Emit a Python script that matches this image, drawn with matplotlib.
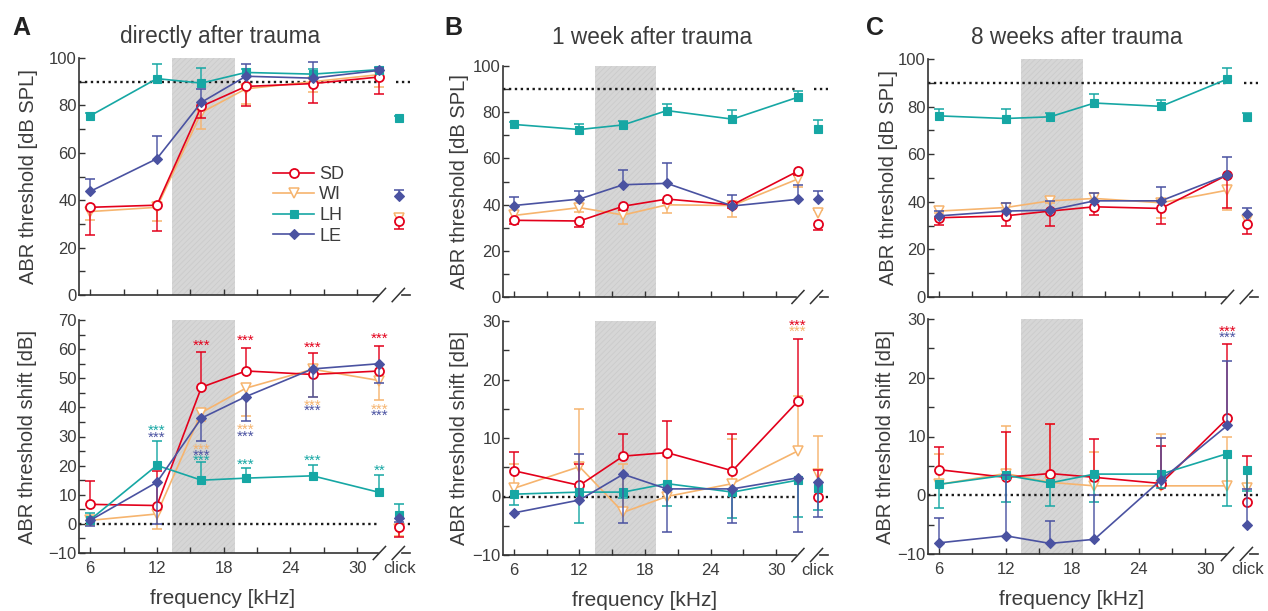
import matplotlib
matplotlib.use('Agg')
import matplotlib.pyplot as plt
import numpy as np
from matplotlib.lines import Line2D
from matplotlib.ticker import MultipleLocator

plt.rcParams['font.family'] = ['Liberation Sans', 'DejaVu Sans']
plt.rcParams['hatch.linewidth'] = 0.6
TXT = '#3c3c3c'
SPINE = '#333333'

# ---------------- data ----------------
freqs = [6, 12, 16, 20, 26, 32]
click_x = 33.8
groups = ['SD', 'WI', 'LH', 'LE']
titles = ['directly after trauma', '1 week after trauma', '8 weeks after trauma']
letters = ['A', 'B', 'C']
xtick_labels = ['6', '12', '18', '24', '30', 'click']
xtick_pos = [6, 12, 18, 24, 30]
trauma_band = (13.4, 19.0)

# threshold [dB SPL]; last value = click
thr_A = {'SD': [37.0, 37.9, 79.6, 88.0, 89.2, 92.0, 31.3],
         'WI': [35.2, 37.0, 77.0, 87.0, 90.0, 93.0, 32.4],
         'LH': [75.6, 91.3, 89.4, 93.9, 93.2, 95.1, 74.6],
         'LE': [43.7, 57.5, 81.3, 92.3, 91.5, 94.8, 41.8]}
thr_A_lo = {'SD': [11.6, 10.9, 5.0, 8.1, 8.2, 7.1, 3.6],
            'WI': [3.5, 5.6, 6.9, 6.3, 4.5, 5.3, 0],
            'LH': [0, 0, 0, 0, 0, 0, 0],
            'LE': [0, 0, 0, 0, 0, 0, 0]}
thr_A_hi = {'SD': [0, 0, 0, 0, 0, 0, 0],
            'WI': [0, 0, 0, 0, 0, 0, 1.5],
            'LH': [1.0, 6.2, 6.4, 1.5, 2.0, 1.0, 1.0],
            'LE': [5.2, 9.4, 5.7, 5.0, 6.8, 1.0, 2.6]}

thr_B = {'SD': [33.2, 32.9, 39.3, 42.4, 39.9, 54.5, 31.8],
         'WI': [35.3, 38.7, 35.5, 39.9, 39.6, 51.1, 36.5],
         'LH': [74.7, 72.5, 74.5, 80.7, 77.0, 86.5, 72.7],
         'LE': [39.6, 42.4, 48.6, 49.2, 39.4, 42.3, 42.3]}
thr_B_lo = {'SD': [1.7, 2.4, 1.5, 1.5, 1.5, 1.5, 2.7],
            'WI': [1.5, 2.0, 4.0, 3.4, 4.8, 3.3, 0],
            'LH': [0, 0, 0, 0, 0, 0, 0],
            'LE': [0, 0, 0, 0, 0, 0, 0]}
thr_B_hi = {'SD': [0, 0, 0, 0, 0, 0, 0],
            'WI': [0, 0, 0, 0, 0, 0, 1.0],
            'LH': [1.0, 2.6, 1.6, 2.9, 3.9, 2.6, 3.8],
            'LE': [3.6, 3.6, 6.5, 8.6, 4.8, 6.2, 3.7]}

thr_C = {'SD': [33.3, 34.1, 36.1, 37.9, 37.2, 51.3, 30.5],
         'WI': [36.1, 37.6, 40.4, 41.4, 39.6, 44.9, 32.3],
         'LH': [76.1, 75.0, 75.7, 81.5, 80.1, 91.6, 75.8],
         'LE': [34.1, 36.1, 36.5, 40.4, 40.4, 51.3, 34.8]}
thr_C_lo = {'SD': [3.1, 4.2, 6.3, 3.5, 6.6, 14.1, 4.2],
            'WI': [1.0, 1.0, 1.0, 1.0, 6.6, 8.4, 1.0],
            'LH': [0, 0, 0, 0, 0, 0, 0],
            'LE': [0, 0, 0, 0, 0, 0, 0]}
thr_C_hi = {'SD': [0, 0, 0, 0, 0, 0, 0],
            'WI': [0, 0, 0, 0, 0, 0, 0],
            'LH': [3.0, 3.9, 1.8, 3.8, 2.8, 4.6, 1.7],
            'LE': [2.1, 3.5, 3.9, 3.1, 5.8, 7.7, 2.7]}

# threshold shift [dB]; last value = click
shift_A = {'SD': [6.7, 6.3, 46.9, 52.5, 51.3, 52.5, -1.2],
           'WI': [1.2, 3.4, 38.2, 46.6, 53.1, 49.2, -1.8],
           'LH': [1.4, 20.1, 15.0, 15.7, 16.5, 10.8, 2.9],
           'LE': [1.2, 14.3, 36.3, 43.7, 53.2, 55.0, 2.0]}
shift_A_lo = {'SD': [0, 0, 0, 0, 0, 0, 3.4],
              'WI': [1.5, 5.2, 3.0, 9.4, 9.4, 6.6, 2.5],
              'LH': [0, 0, 0, 0, 0, 0, 0],
              'LE': [2.1, 14.3, 8.0, 8.3, 9.5, 6.7, 1.5]}
shift_A_hi = {'SD': [8.1, 12.0, 12.2, 8.0, 7.5, 8.5, 0],
              'WI': [0, 0, 0, 0, 0, 0, 0],
              'LH': [2.3, 8.2, 6.4, 3.4, 3.8, 6.1, 3.9],
              'LE': [0, 0, 0, 0, 0, 0, 0]}

shift_B = {'SD': [4.4, 1.9, 6.9, 7.5, 4.4, 16.3, 0.0],
           'WI': [1.4, 5.1, -2.7, 0.0, 2.2, 7.8, 3.9],
           'LH': [0.4, 0.75, 0.75, 2.2, 0.75, 2.8, 1.4],
           'LE': [-2.8, -0.6, 3.8, 1.3, 1.3, 3.2, 2.5]}
shift_B_lo = {'SD': [0, 0, 0, 0, 0, 0, 0],
              'WI': [0, 0, 0, 0, 0, 0, 0],
              'LH': [1.8, 5.35, 1.0, 3.9, 4.5, 6.3, 3.7],
              'LE': [0, 0, 8.4, 7.4, 5.8, 9.3, 6.0]}
shift_B_hi = {'SD': [3.2, 3.6, 3.8, 5.4, 6.3, 10.6, 4.6],
              'WI': [4.1, 9.9, 8.2, 7.0, 7.7, 9.4, 6.5],
              'LH': [0, 0, 0, 0, 0, 0, 0],
              'LE': [0, 7.8, 0, 0, 0, 0, 0]}

shift_C = {'SD': [4.35, 3.05, 3.7, 3.05, 2.0, 13.1, -1.2],
           'WI': [1.85, 3.7, 2.2, 1.6, 1.6, 1.6, 1.2],
           'LH': [1.85, 3.4, 2.1, 3.6, 3.6, 7.1, 4.3],
           'LE': [-8.1, -6.9, -8.2, -7.5, 2.6, 11.9, -5.1]}
shift_C_lo = {'SD': [0, 0, 0, 0, 0, 0, 0],
              'WI': [0, 0, 0, 0, 0, 0, 0],
              'LH': [4.1, 4.5, 3.9, 4.7, 2.3, 9.0, 3.5],
              'LE': [0, 0, 0, 0, 0, 0, 0]}
shift_C_hi = {'SD': [3.8, 7.7, 8.5, 6.6, 6.4, 12.6, 7.9],
              'WI': [5.1, 8.1, 9.9, 5.7, 8.8, 8.4, 0],
              'LH': [0, 0, 0, 0, 0, 0, 0],
              'LE': [4.3, 10.3, 3.9, 7.5, 7.1, 11.0, 6.2]}

# significance stars: (group, freq, y, text)
stars_A = [('SD', 16, 62.7, '***'), ('SD', 20, 64.3, '***'), ('SD', 26, 62.1, '***'), ('SD', 32, 65.2, '***'),
           ('WI', 16, 26.9, '***'), ('WI', 20, 33.7, '***'), ('WI', 26, 42.2, '***'), ('WI', 32, 40.5, '***'),
           ('LE', 12, 31.1, '***'), ('LE', 16, 24.9, '***'), ('LE', 20, 31.5, '***'), ('LE', 26, 40.2, '***'),
           ('LE', 32, 38.5, '***'),
           ('LH', 12, 33.3, '***'), ('LH', 16, 23.0, '***'), ('LH', 20, 21.7, '***'), ('LH', 26, 23.0, '***'),
           ('LH', 32, 19.7, '**')]
stars_B = [('SD', 32, 30.0, '***'), ('WI', 32, 28.9, '***')]
stars_C = [('SD', 32, 28.6, '***'), ('LE', 32, 27.5, '***')]

# ---------------- style ----------------
colors = {'SD': '#e3001b', 'WI': '#f6b46e', 'LH': '#16a7a4', 'LE': '#4a52a1'}
markers = {'SD': dict(marker='o', ms=6.5, mfc='white', mew=1.3),
           'WI': dict(marker='v', ms=7, mfc='white', mew=1.1),
           'LH': dict(marker='s', ms=5.5, mew=0.8),
           'LE': dict(marker='D', ms=5.5, mew=0.8)}
order = ['WI', 'SD', 'LH', 'LE']
XLIM = (5.0, 34.75)

fig = plt.figure(figsize=(12.68, 6.11), dpi=100)

W = 1268.0
H = 611.0
def axbox(l, r, t, b):
    return [l / W, 1 - b / H, (r - l) / W, (b - t) / H]

boxes_top = [axbox(79, 410, 58, 295), axbox(503, 828, 66, 297), axbox(928, 1258, 59, 297)]
boxes_bot = [axbox(79, 410, 320, 553), axbox(503, 828, 321, 555), axbox(928, 1258, 319, 554)]
ylab_x_top = [-0.125, -0.105, -0.092]
ylab_x_bot = [-0.127, -0.105, -0.100]


def draw_series(ax, mean, lo, hi):
    xs = np.array(freqs + [click_x], dtype=float)
    for zi, g in enumerate(order):
        c = colors[g]
        m = np.array(mean[g], dtype=float)
        l = np.array(lo[g], dtype=float)
        h = np.array(hi[g], dtype=float)
        z = 3 + zi
        for err, sign in ((l, -1), (h, 1)):
            sel = err > 0
            if sel.any():
                ends = m[sel] + sign * err[sel]
                ax.vlines(xs[sel], m[sel], ends, color=c, lw=1.2, alpha=0.85, zorder=z)
                ax.plot(xs[sel], ends, ls='none', marker='_', ms=7, mew=1.3, color=c, alpha=0.85, zorder=z)
        ax.plot(freqs, m[:6], color=c, lw=1.2, mec=c, zorder=z + 0.5, **markers[g])
        ax.plot([click_x], [m[6]], color=c, ls='none', mec=c, zorder=z + 0.5, **markers[g])


def style_axis(ax, ylim, ymaj, ymin, ref_y, bottom_labels, ylab, ylab_x):
    ax.set_xlim(*XLIM)
    ax.set_ylim(*ylim)
    for s in ('top', 'right', 'bottom'):
        ax.spines[s].set_visible(False)
    ax.spines['left'].set_color(SPINE)
    ax.spines['left'].set_linewidth(1.2)
    ax.yaxis.set_major_locator(MultipleLocator(ymaj))
    ax.yaxis.set_minor_locator(MultipleLocator(ymin))
    ax.set_xticks(xtick_pos + [click_x])
    ax.set_xticks([9, 15, 21, 27], minor=True)
    if bottom_labels:
        ax.set_xticklabels(xtick_labels)
    else:
        ax.set_xticklabels([])
    ax.xaxis.get_major_ticks()[-1].tick1line.set_visible(False)
    ax.tick_params(which='both', direction='in', length=4, width=1.0, color=SPINE,
                   labelcolor=TXT, labelsize=12)
    ax.tick_params(axis='x', pad=6)
    ax.tick_params(axis='y', pad=1.5)
    # broken bottom axis
    tr = ax.get_xaxis_transform()
    ax.plot([XLIM[0], 31.85], [0, 0], transform=tr, color=SPINE, lw=1.2, clip_on=False, zorder=10)
    ax.plot([34.0, XLIM[1]], [0, 0], transform=tr, color=SPINE, lw=1.2, clip_on=False, zorder=10)
    hgt = 0.028
    for xc in (32.0, 33.7):
        ax.plot([xc - 0.55, xc + 0.55], [-hgt, hgt], transform=tr, color=SPINE, lw=1.1,
                clip_on=False, zorder=10)
    # dotted reference
    ax.plot([XLIM[0], 32.0], [ref_y, ref_y], ls=(0, (1, 1.5)), color='#1a1a1a', lw=1.7, zorder=2)
    ax.plot([33.5, XLIM[1]], [ref_y, ref_y], ls=(0, (1, 1.5)), color='#1a1a1a', lw=1.7, zorder=2)
    ax.axvspan(*trauma_band, facecolor='#d6d6d6', edgecolor='#cbcbcb', hatch='//////', lw=0, zorder=0)
    ax.set_ylabel(ylab, fontsize=14.5, color=TXT)
    ax.yaxis.set_label_coords(ylab_x, 0.5)


def draw_stars(ax, stars):
    for g, f, y, t in stars:
        ax.annotate(t, (f, y), xytext=(0, -6), textcoords='offset points', ha='center',
                    va='baseline', color=colors[g], fontsize=11, clip_on=False, zorder=12)


thr_means = [thr_A, thr_B, thr_C]
thr_los = [thr_A_lo, thr_B_lo, thr_C_lo]
thr_his = [thr_A_hi, thr_B_hi, thr_C_hi]
sh_means = [shift_A, shift_B, shift_C]
sh_los = [shift_A_lo, shift_B_lo, shift_C_lo]
sh_his = [shift_A_hi, shift_B_hi, shift_C_hi]
stars_all = [stars_A, stars_B, stars_C]
shift_ylims = [(-10, 70), (-10, 30), (-10, 30)]

for i in range(3):
    axt = fig.add_axes(boxes_top[i])
    style_axis(axt, (0, 100), 20, 10, 90, False, 'ABR threshold [dB SPL]', ylab_x_top[i])
    draw_series(axt, thr_means[i], thr_los[i], thr_his[i])

    axb = fig.add_axes(boxes_bot[i])
    style_axis(axb, shift_ylims[i], 10, 5, 0, True, 'ABR threshold shift [dB]', ylab_x_bot[i])
    draw_series(axb, sh_means[i], sh_los[i], sh_his[i])
    draw_stars(axb, stars_all[i])
    axb.set_xlabel('frequency [kHz]', fontsize=15, color=TXT)
    axb.xaxis.set_label_coords(0.435, -0.155)
    axb.xaxis.label.set_va('top')

    if i == 0:
        handles = [Line2D([], [], color=colors[g], lw=1.2, mec=colors[g], **markers[g]) for g in groups]
        axt.legend(handles, groups, loc='upper left', bbox_to_anchor=(0.586, 0.545), frameon=False,
                   fontsize=13, handlelength=2.3, handletextpad=0.25, labelspacing=0.2,
                   borderpad=0, borderaxespad=0, labelcolor=TXT)

title_x = [220, 652, 1077]
letter_x = [12, 444, 866]
for i in range(3):
    fig.text(title_x[i] / W, 1 - 37 / H, titles[i], fontsize=16.3, color=TXT, ha='center', va='center')
    fig.text(letter_x[i] / W, 1 - 28 / H, letters[i], fontsize=18, fontweight='bold', color='#222222',
             ha='left', va='center')

fig.savefig('out.png', dpi=100)
